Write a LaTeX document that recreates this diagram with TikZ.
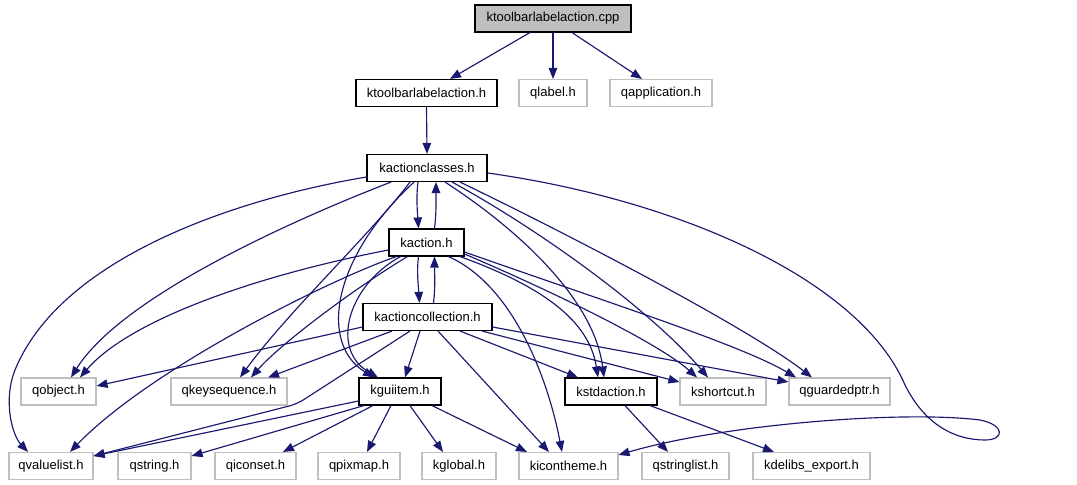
\documentclass[tikz,border=0pt]{standalone}
\usepackage{fontspec}
\setmainfont{Liberation Sans}
\usetikzlibrary{arrows.meta}
\definecolor{edgec}{HTML}{191970}
\definecolor{gbord}{HTML}{BFBFBF}
\begin{document}
\begin{tikzpicture}[x=1bp,y=-1bp,
 box/.style={draw=black,line width=1.1bp,minimum height=27bp,inner sep=0pt,font=\fontsize{13bp}{15bp}\selectfont,text=black},
 gbox/.style={box,draw=gbord},
 e/.style={draw=edgec,line width=1.15bp,-{Triangle[length=11bp,width=8.5bp]}}]
\fill[white] (0,0) rectangle (1077,485);
\useasboundingbox (0,0) rectangle (1077,485);
% nodes
\node[box,fill=gbord,minimum width=156bp] (cpp) at (553,18.5) {ktoolbarlabelaction.cpp};
\node[box,minimum width=141bp] (tlh) at (426.5,93) {ktoolbarlabelaction.h};
\node[gbox,minimum width=68bp] (qlabel) at (553,93) {qlabel.h};
\node[gbox,minimum width=102bp] (qapp) at (661,93) {qapplication.h};
\node[box,minimum width=120bp] (kac) at (427,168) {kactionclasses.h};
\node[box,minimum width=75bp] (ka) at (426.5,242.5) {kaction.h};
\node[box,minimum width=129bp] (kcoll) at (427.5,317) {kactioncollection.h};
\node[gbox,minimum width=75bp] (qobject) at (58.5,391.5) {qobject.h};
\node[gbox,minimum width=116bp] (qkey) at (229,391.5) {qkeysequence.h};
\node[box,minimum width=82bp] (kgui) at (400,391.5) {kguiitem.h};
\node[box,minimum width=92bp] (kstd) at (611,391.5) {kstdaction.h};
\node[gbox,minimum width=86bp] (kshort) at (723,391.5) {kshortcut.h};
\node[gbox,minimum width=101bp] (qguard) at (839.5,391.5) {qguardedptr.h};
\node[gbox,minimum width=84bp] (qvalue) at (51,466) {qvaluelist.h};
\node[gbox,minimum width=73bp] (qstring) at (154.5,466) {qstring.h};
\node[gbox,minimum width=81bp] (qicon) at (255.5,466) {qiconset.h};
\node[gbox,minimum width=82bp] (qpix) at (359,466) {qpixmap.h};
\node[gbox,minimum width=74bp] (kglobal) at (459,466) {kglobal.h};
\node[gbox,minimum width=99bp] (kicon) at (568.5,466) {kicontheme.h};
\node[gbox,minimum width=87bp] (qstrl) at (685.5,466) {qstringlist.h};
\node[gbox,minimum width=117bp] (kdel) at (811.5,466) {kdelibs\_export.h};
% top edges
\draw[e] ([xshift=-23bp]cpp.south) -- ([xshift=23.5bp]tlh.north);
\draw[e] (cpp.south) -- (qlabel.north);
\draw[e] ([xshift=19bp]cpp.south) -- ([xshift=-19bp]qapp.north);
\draw[e] (tlh.south) -- (kac.north);
% vertical pairs
\draw[e] ([xshift=-9bp]kac.south) .. controls +(-2,15) and +(-1,-15) .. ([xshift=-8bp]ka.north);
\draw[e] ([xshift=8bp]ka.north) .. controls +(2,-15) and +(0,15) .. ([xshift=9bp]kac.south);
\draw[e] ([xshift=-8bp]ka.south) .. controls +(-2,15) and +(-1,-15) .. ([xshift=-8bp]kcoll.north);
\draw[e] ([xshift=6bp]kcoll.north) .. controls +(2,-15) and +(0,15) .. ([xshift=8bp]ka.south);
% kactionclasses
\draw[e] ([xshift=-36bp]kac.south) .. controls +(-111,43) and +(49,-78) .. ([xshift=12.5bp]qobject.north);
\draw[e] ([yshift=-9bp]kac.west) .. controls +(-137,23) and +(45,-110) .. (15,370) .. controls +(-12,30) and +(-16,-17) .. ([xshift=-23bp]qvalue.north);
\draw[e] ([xshift=-17bp]kac.south) .. controls +(-40,53) and +(50,-68) .. ([xshift=11bp]qkey.north);
\draw[e] ([xshift=-13bp]kac.south) .. controls +(-84,78) and +(-54,-33) .. ([xshift=-26bp]kgui.north);
\draw[e] ([xshift=18bp]kac.south) .. controls +(74,48) and +(-10,-78) .. ([xshift=-7bp]kstd.north);
\draw[e] ([xshift=25bp]kac.south) .. controls +(88,48) and +(-58,-68) .. ([xshift=-15bp]kshort.north);
\draw[e] ([xshift=33bp]kac.south) .. controls +(120,58) and +(-62,-48) .. ([xshift=-27.5bp]qguard.north);
\draw[e] ([yshift=-5bp]kac.east) .. controls (680,200) and (860,280) .. (905,385) .. controls (925,425) and (955,440) .. (985,440) .. controls (1005,440) and (1005,425) .. (980,420) .. controls (900,410) and (720,425) .. ([yshift=11bp]kicon.east);
% kaction
\draw[e] ([yshift=-7.5bp]ka.west) .. controls +(-130,25) and +(50,-58) .. ([xshift=21.5bp]qobject.north);
\draw[e] ([xshift=-30bp]ka.south) .. controls +(-67,23) and +(80,-83) .. ([xshift=19bp]qvalue.north);
\draw[e] ([xshift=-19bp]ka.south) .. controls +(-55,33) and +(29,-33) .. ([xshift=22bp]qkey.north);
\draw[e] ([xshift=-26bp]ka.south) .. controls +(-53,29) and +(-48,-28) .. ([xshift=-22bp]kgui.north);
\draw[e] ([xshift=22bp]ka.south) .. controls +(65,29) and +(-14,-73) .. ([xshift=-6.5bp]kicon.north);
\draw[e] ([xshift=33.5bp]ka.south) .. controls +(80,29) and +(-9,-58) .. ([xshift=-13bp]kstd.north);
\draw[e] ([yshift=-11.5bp]ka.east) .. controls +(96,41) and +(-37,-33) .. ([xshift=-26bp]kshort.north);
\draw[e] ([yshift=-9.5bp]ka.east) .. controls +(136,48) and +(-56,-33) .. ([xshift=-43.5bp]qguard.north);
% kactioncollection
\draw[e] ([yshift=-10bp]kcoll.west) -- ([yshift=5.5bp]qobject.east);
\draw[e] ([xshift=-35.5bp]kcoll.south) -- ([xshift=39bp]qkey.north);
\draw[e] ([xshift=-7.5bp]kcoll.south) -- ([xshift=5bp]kgui.north);
\draw[e,rounded corners=8bp] ([xshift=-17.5bp]kcoll.south) -- (297,404) -- ([yshift=10bp]qvalue.east);
\draw[e] ([xshift=10.5bp]kcoll.south) -- ([xshift=-19.5bp]kicon.north);
\draw[e] ([xshift=32.5bp]kcoll.south) -- ([xshift=-33bp]kstd.north);
\draw[e] ([xshift=54.5bp]kcoll.south) -- ([yshift=9.5bp]kshort.west);
\draw[e] ([yshift=-10bp]kcoll.east) -- ([yshift=9.5bp]qguard.west);
% kguiitem
\draw[e] ([yshift=-9.5bp]kgui.west) -- ([yshift=10bp]qvalue.east);
\draw[e] ([xshift=-36bp]kgui.south) -- ([yshift=10bp]qstring.east);
\draw[e] ([xshift=-27bp]kgui.south) -- ([xshift=27.5bp]qicon.north);
\draw[e] ([xshift=-9bp]kgui.south) -- ([xshift=8bp]qpix.north);
\draw[e] ([xshift=10bp]kgui.south) -- ([xshift=-16bp]kglobal.north);
\draw[e] ([xshift=32bp]kgui.south) -- ([xshift=-41.5bp]kicon.north);
% kstdaction
\draw[e] ([xshift=14bp]kstd.south) -- ([xshift=-17.5bp]qstrl.north);
\draw[e] ([xshift=39bp]kstd.south) -- ([xshift=-37.5bp]kdel.north);
\end{tikzpicture}
\end{document}
